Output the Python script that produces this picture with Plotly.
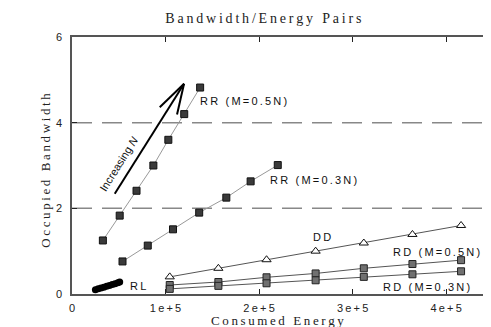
import plotly.graph_objects as go

# ── Data ─────────────────────────────────────────────────────────────────────
rr05_x = [0.33e5, 0.51e5, 0.69e5, 0.87e5, 1.03e5, 1.20e5, 1.37e5]
rr05_y = [1.25, 1.83, 2.41, 3.00, 3.60, 4.20, 4.82]

rr03_x = [0.54e5, 0.81e5, 1.08e5, 1.36e5, 1.65e5, 1.91e5, 2.20e5]
rr03_y = [0.76, 1.13, 1.51, 1.90, 2.25, 2.63, 3.01]

rl_x = [0.25e5, 0.28e5, 0.31e5, 0.34e5, 0.37e5, 0.40e5, 0.43e5, 0.46e5, 0.49e5, 0.51e5]
rl_y = [0.10, 0.12, 0.14, 0.16, 0.18, 0.20, 0.22, 0.24, 0.26, 0.28]

dd_x = [1.045e5, 1.565e5, 2.08e5, 2.605e5, 3.12e5, 3.64e5, 4.16e5]
dd_y = [0.40, 0.60, 0.80, 1.00, 1.19, 1.39, 1.60]

rd05_x = dd_x
rd05_y = [0.21, 0.28, 0.39, 0.48, 0.60, 0.70, 0.79]

rd03_x = dd_x
rd03_y = [0.12, 0.19, 0.25, 0.32, 0.40, 0.46, 0.53]

x_ticks = [0, 1e5, 2e5, 3e5, 4e5]
x_tick_text = ["0", "1e+5", "2e+5", "3e+5", "4e+5"]
y_ticks = [0, 2, 4, 6]
limits = [2, 4]

# ── Style ────────────────────────────────────────────────────────────────────
_SERIF = "Liberation Serif, Times New Roman, serif"
_SANS = "Liberation Sans, Arial, sans-serif"
_AXIS = "#555555"
_SP = "\u2009"


def spaced(s):
    return _SP.join(s)


fig = go.Figure()

fig.add_trace(go.Scatter(
    x=rr05_x, y=rr05_y, mode="lines+markers",
    line=dict(color="#999999", width=1),
    marker=dict(symbol="square", size=7, color="#3a3a3a",
                line=dict(color="#111111", width=1)),
))
fig.add_trace(go.Scatter(
    x=rr03_x, y=rr03_y, mode="lines+markers",
    line=dict(color="#999999", width=1),
    marker=dict(symbol="square", size=7, color="#3a3a3a",
                line=dict(color="#111111", width=1)),
))
fig.add_trace(go.Scatter(
    x=rl_x, y=rl_y, mode="lines+markers",
    line=dict(color="#000000", width=1),
    marker=dict(symbol="circle", size=7, color="#000000"),
))
fig.add_trace(go.Scatter(
    x=dd_x, y=dd_y, mode="lines+markers",
    line=dict(color="#555555", width=1),
    marker=dict(symbol="triangle-up", size=8, color="#ffffff",
                line=dict(color="#111111", width=1)),
))
fig.add_trace(go.Scatter(
    x=rd05_x, y=rd05_y, mode="lines+markers",
    line=dict(color="#555555", width=1),
    marker=dict(symbol="square", size=7, color="#707070",
                line=dict(color="#222222", width=1)),
))
fig.add_trace(go.Scatter(
    x=rd03_x, y=rd03_y, mode="lines+markers",
    line=dict(color="#555555", width=1),
    marker=dict(symbol="square", size=7, color="#707070",
                line=dict(color="#222222", width=1)),
))

for yv in limits:
    fig.add_hline(y=yv, line=dict(color="#888888", width=1.5, dash="20px,10px"),
                  layer="below")

# "Increasing N" arrow (open V head)
arrow = dict(type="line", xref="x", yref="y", line=dict(color="#000000", width=2))
fig.add_shape(**arrow, x0=0.457e5, y0=2.34, x1=1.198e5, y1=4.91)
fig.add_shape(**arrow, x0=0.938e5, y0=4.36, x1=1.198e5, y1=4.91)
fig.add_shape(**arrow, x0=1.123e5, y0=4.19, x1=1.198e5, y1=4.91)

labels = [
    ("RR (M=0.5N)", 1.35e5, 4.50),
    ("RR (M=0.3N)", 2.10e5, 2.67),
    ("DD", 2.56e5, 1.33),
    ("RD (M=0.5N)", 3.41e5, 0.99),
    ("RD (M=0.3N)", 3.30e5, 0.17),
    ("RL", 0.60e5, 0.19),
]
for txt, lx, ly in labels:
    fig.add_annotation(x=lx, y=ly, text=spaced(txt), showarrow=False,
                       xanchor="left", yanchor="middle",
                       font=dict(family=_SANS, size=11, color="#111111"))

fig.add_annotation(x=0.50e5, y=3.03, text="Increasing <i>N</i>", showarrow=False,
                   textangle=-58, font=dict(family=_SANS, size=11, color="#111111"))

# axis titles placed by hand, as in the reference
fig.add_annotation(xref="paper", yref="paper", x=-0.062, y=0.48,
                   text=spaced("Occupied Bandwidth"), showarrow=False,
                   textangle=-90, xanchor="center", yanchor="middle",
                   font=dict(family=_SERIF, size=13, color="#222222"))
fig.add_annotation(xref="paper", yref="paper", x=0.49, y=-0.102,
                   text=spaced("Consumed Energy"), showarrow=False,
                   xanchor="center", yanchor="middle",
                   font=dict(family=_SERIF, size=13, color="#222222"))

axis_common = dict(
    showline=True, linecolor=_AXIS, linewidth=1.5, mirror="ticks",
    ticks="inside", ticklen=5, tickcolor="#222222", tickwidth=1,
    showgrid=False, zeroline=False,
    tickfont=dict(family=_SANS, size=11, color="#222222"),
)

fig.update_layout(
    width=491, height=327,
    template=None,
    paper_bgcolor="#FFFFFF", plot_bgcolor="#FFFFFF",
    showlegend=False,
    margin=dict(l=64, r=8, t=29, b=41),
    title=dict(text=spaced("Bandwidth/Energy Pairs"), x=0.52, xanchor="center",
               y=0.97, yanchor="middle",
               font=dict(family=_SERIF, size=14, color="#222222")),
    xaxis=dict(**axis_common, range=[0, 4.48e5], tickvals=x_ticks,
               ticktext=[spaced(t) for t in x_tick_text], ticklabelstandoff=3),
    yaxis=dict(**axis_common, range=[0, 6], tickvals=y_ticks, ticklabelstandoff=6),
)

fig.write_html("out.html")
